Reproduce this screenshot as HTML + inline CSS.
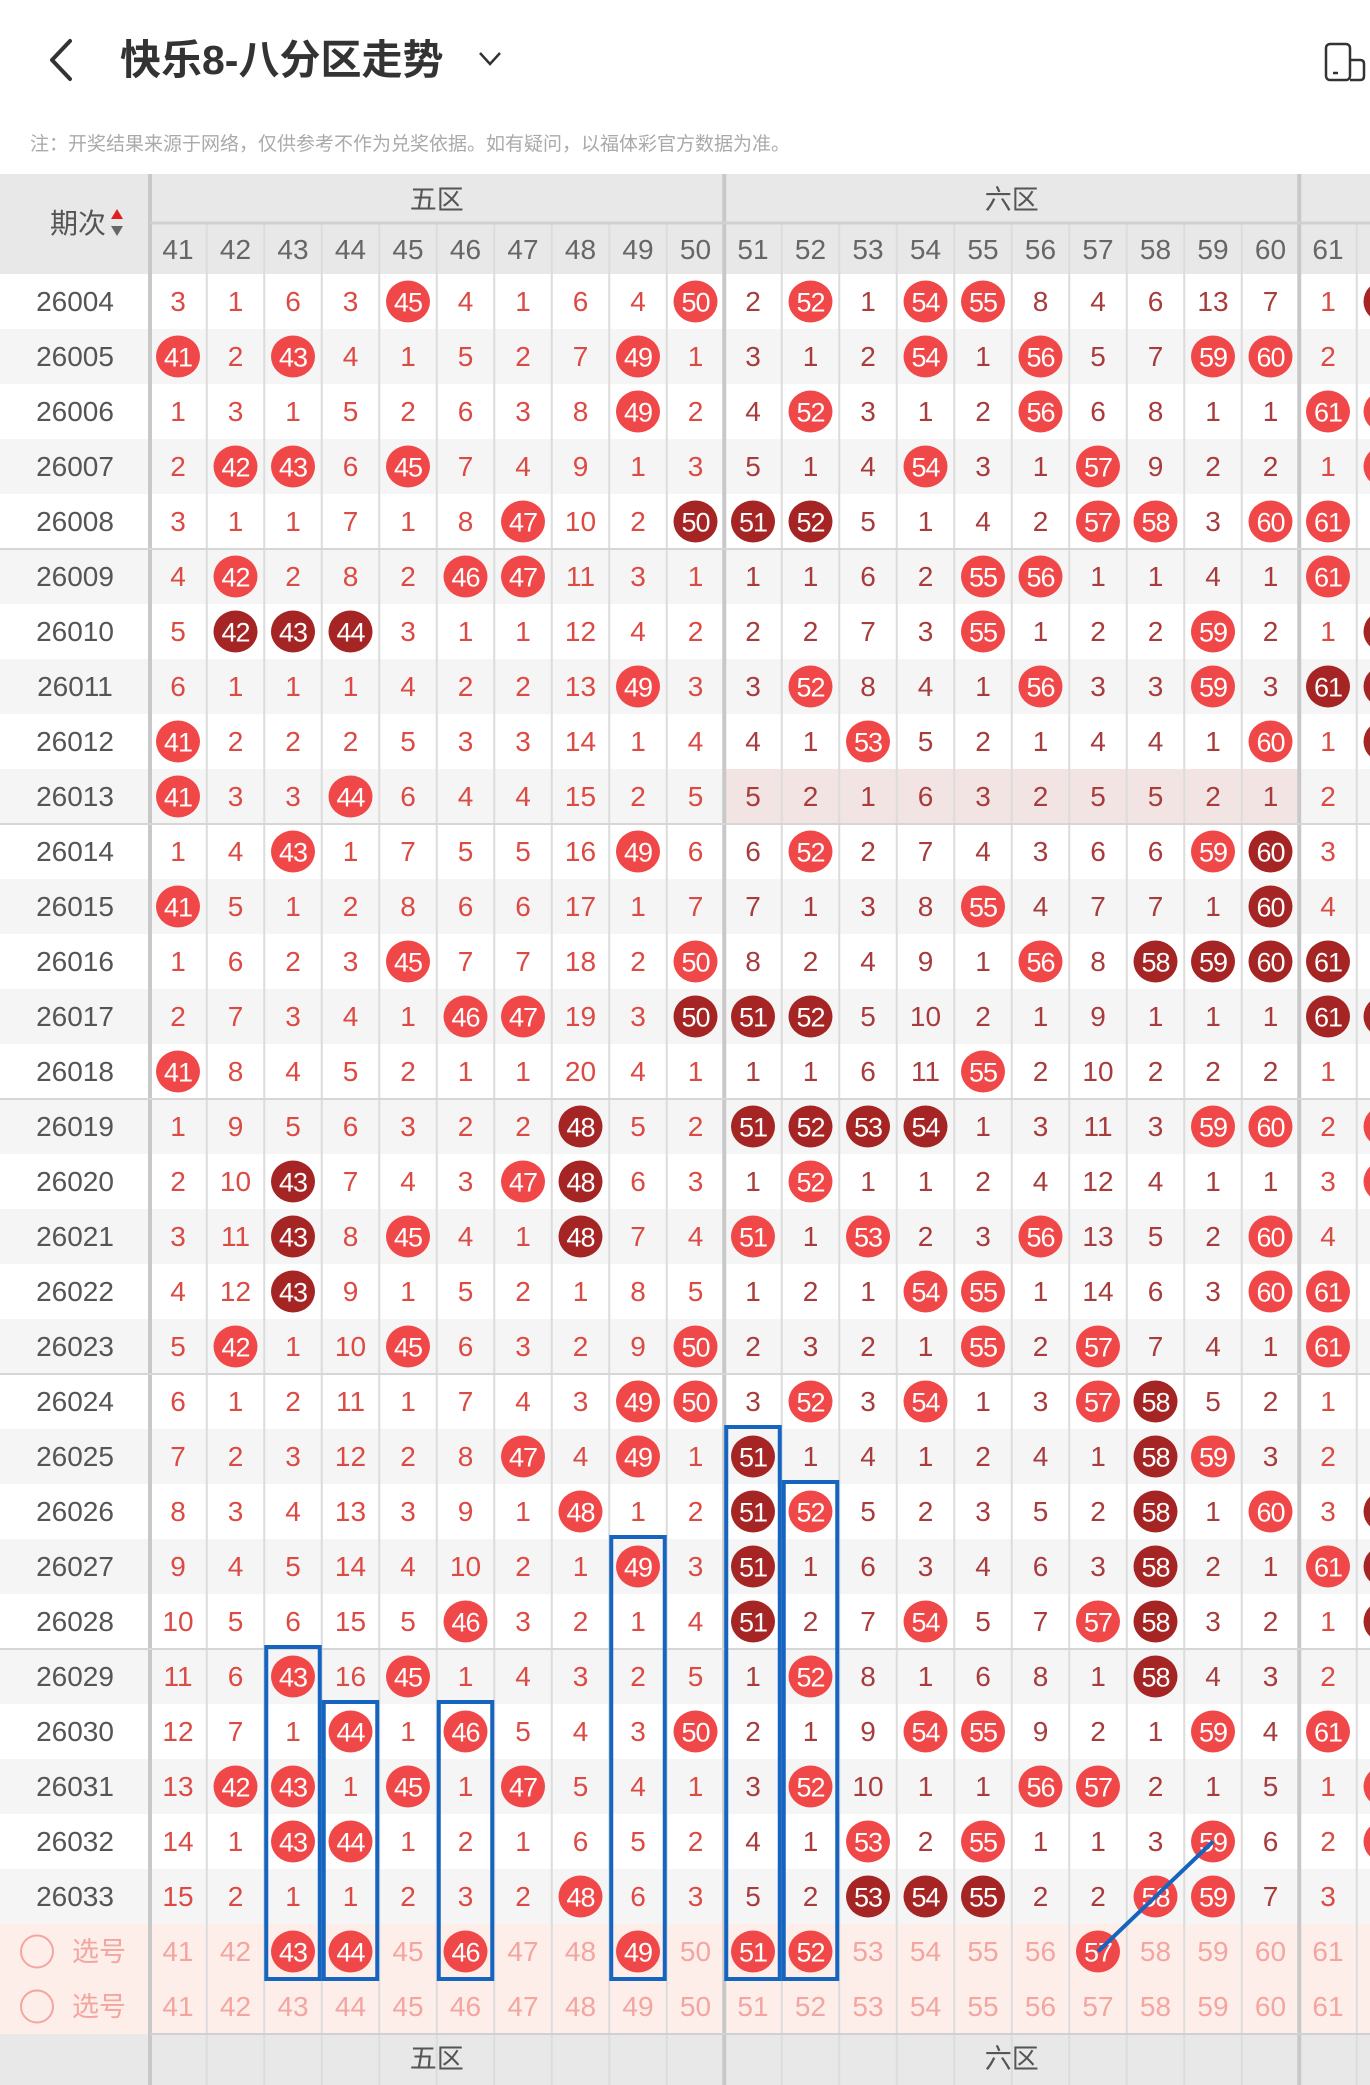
<!DOCTYPE html>
<html><head><meta charset="utf-8"><style>
html,body{margin:0;padding:0;background:#fff;width:1370px;height:2085px;overflow:hidden}
svg{display:block}
text{font-family:"Liberation Sans","Noto Sans CJK SC",sans-serif}
</style></head><body>
<svg id="chart" width="1370" height="2085" viewBox="0 0 1370 2085" xmlns="http://www.w3.org/2000/svg">
<rect x="0" y="0" width="1370" height="2085" fill="#fff"/>
<g>
  <path d="M70 41 L52 60 L70 79" fill="none" stroke="#333" stroke-width="4" stroke-linecap="round" stroke-linejoin="round"/>
  <text x="120" y="74" font-size="41" font-weight="bold" fill="#333">快乐8-八分区走势</text>
  <path d="M480 53 L490 64 L500 53" fill="none" stroke="#333" stroke-width="2.5"/>
  <g fill="none" stroke="#333" stroke-width="2.5">
    <rect x="1326" y="44" width="24" height="36" rx="4"/>
    <path d="M1350 60 H1360 Q1364 60 1364 64 V76 Q1364 80 1360 80 H1350"/>
    <path d="M1333 73 H1338"/>
  </g>
  <text x="30" y="150" font-size="19" fill="#aaa">注：开奖结果来源于网络，仅供参考不作为兑奖依据。如有疑问，以福体彩官方数据为准。</text>
</g>
<g id="grid"></g>
<g id="marks"></g>
<g id="overlay"></g>
</svg>
<script>
const periods = ["26004","26005","26006","26007","26008","26009","26010","26011","26012","26013","26014","26015","26016","26017","26018","26019","26020","26021","26022","26023","26024","26025","26026","26027","26028","26029","26030","26031","26032","26033"];
const columns = [41,42,43,44,45,46,47,48,49,50,51,52,53,54,55,56,57,58,59,60,61,62];
// L = light hit, D = dark (consecutive) hit, number = missing count
const cells = [
"3,1,6,3,L,4,1,6,4,L,2,L,1,L,L,8,4,6,13,7,1,D",
"L,2,L,4,1,5,2,7,L,1,3,1,2,L,1,L,5,7,L,L,2,",
"1,3,1,5,2,6,3,8,L,2,4,L,3,1,2,L,6,8,1,1,L,L",
"2,L,L,6,L,7,4,9,1,3,5,1,4,L,3,1,L,9,2,2,1,L",
"3,1,1,7,1,8,L,10,2,D,D,D,5,1,4,2,L,L,3,L,L,",
"4,L,2,8,2,L,L,11,3,1,1,1,6,2,L,L,1,1,4,1,L,",
"5,D,D,D,3,1,1,12,4,2,2,2,7,3,L,1,2,2,L,2,1,D",
"6,1,1,1,4,2,2,13,L,3,3,L,8,4,1,L,3,3,L,3,D,D",
"L,2,2,2,5,3,3,14,1,4,4,1,L,5,2,1,4,4,1,L,1,D",
"L,3,3,L,6,4,4,15,2,5,5,2,1,6,3,2,5,5,2,1,2,",
"1,4,L,1,7,5,5,16,L,6,6,L,2,7,4,3,6,6,L,D,3,",
"L,5,1,2,8,6,6,17,1,7,7,1,3,8,L,4,7,7,1,D,4,",
"1,6,2,3,L,7,7,18,2,L,8,2,4,9,1,L,8,D,D,D,D,",
"2,7,3,4,1,L,L,19,3,D,D,D,5,10,2,1,9,1,1,1,D,D",
"L,8,4,5,2,1,1,20,4,1,1,1,6,11,L,2,10,2,2,2,1,",
"1,9,5,6,3,2,2,D,5,2,D,D,D,D,1,3,11,3,L,L,2,L",
"2,10,D,7,4,3,L,D,6,3,1,L,1,1,2,4,12,4,1,1,3,L",
"3,11,D,8,L,4,1,D,7,4,L,1,L,2,3,L,13,5,2,L,4,",
"4,12,D,9,1,5,2,1,8,5,1,2,1,L,L,1,14,6,3,L,L,",
"5,L,1,10,L,6,3,2,9,L,2,3,2,1,L,2,L,7,4,1,L,",
"6,1,2,11,1,7,4,3,L,L,3,L,3,L,1,3,L,D,5,2,1,",
"7,2,3,12,2,8,L,4,L,1,D,1,4,1,2,4,1,D,L,3,2,",
"8,3,4,13,3,9,1,L,1,2,D,L,5,2,3,5,2,D,1,L,3,D",
"9,4,5,14,4,10,2,1,L,3,D,1,6,3,4,6,3,D,2,1,L,D",
"10,5,6,15,5,L,3,2,1,4,D,2,7,L,5,7,L,D,3,2,1,D",
"11,6,L,16,L,1,4,3,2,5,1,L,8,1,6,8,1,D,4,3,2,",
"12,7,1,L,1,L,5,4,3,L,2,1,9,L,L,9,2,1,L,4,L,",
"13,L,L,1,L,1,L,5,4,1,3,L,10,1,1,L,L,2,1,5,1,L",
"14,1,L,L,1,2,1,6,5,2,4,1,L,2,L,1,1,3,L,6,2,L",
"15,2,1,1,2,3,2,L,6,3,5,2,D,D,D,2,2,L,L,7,3,"
];
const selected = [43,44,46,49,51,52,57];
const zoneNames = ["五区","六区"];
const boxes = [[43,"26029"],[44,"26030"],[46,"26030"],[49,"26027"],[51,"26025"],[52,"26026"]];
const linkFrom = [57,"select"];
const linkTo = [59,"26032"];

const NS="http://www.w3.org/2000/svg";
const X0=178, CW=57.5, Y0=274, RH=55;
const cx=i=>X0+CW*i, cl=i=>X0-CW/2+CW*i;
const ry=r=>Y0+RH*r;
const colIdx=n=>columns.indexOf(n);
function mk(tag,attrs,parent,txt){const e=document.createElementNS(NS,tag);for(const k in attrs)e.setAttribute(k,attrs[k]);if(txt!==undefined)e.textContent=txt;parent.appendChild(e);return e;}
const grid=document.getElementById('grid'), marks=document.getElementById('marks'), ov=document.getElementById('overlay');
const nRows=periods.length, totalRows=nRows+2;
let e=mk('rect',{x:0,y:174,width:1370,height:100,fill:'#e8e8e8'},grid);


for(let r=0;r<totalRows;r++){
  const fill=r>=nRows?'#fdeeea':(r%2?'#f5f5f5':'#ffffff');
  e=mk('rect',{x:0,y:ry(r),width:1370,height:RH,fill},grid);
  
  
}
e=mk('rect',{x:cl(10),y:ry(9),width:CW*10,height:RH,fill:'#f3e4e4'},grid);


e=mk('rect',{x:0,y:ry(totalRows),width:1370,height:60,fill:'#e8e8e8'},grid);


for(let i=1;i<columns.length;i++){
  const thick=(i===10||i===20);
  mk('line',{x1:cl(i),x2:cl(i),y1:thick?174:223,y2:2085,stroke:thick?'#c8c8c8':'#dcdcdc','stroke-width':thick?4:2},grid);
}
mk('line',{x1:150,x2:150,y1:174,y2:2085,stroke:'#c8c8c8','stroke-width':4},grid);
mk('line',{x1:150,x2:1370,y1:223,y2:223,stroke:'#d0d0d0','stroke-width':3},grid);
for(let g=5;g<nRows;g+=5) mk('line',{x1:0,x2:1370,y1:ry(g),y2:ry(g),stroke:'#d6d6d6','stroke-width':2},grid);
mk('line',{x1:150,x2:1370,y1:ry(totalRows),y2:ry(totalRows),stroke:'#d0d0d0','stroke-width':2},grid);
e=mk('text',{x:78,y:233,'font-size':28,fill:'#555','text-anchor':'middle'},grid,'期次');


mk('path',{d:'M111 219 L117 209 L123 219 Z',fill:'#e02020'},grid);
mk('path',{d:'M111 226 L117 236 L123 226 Z',fill:'#666'},grid);
zoneNames.forEach((z,k)=>{
  const xm=cx(4.5+10*k);
  e=mk('text',{x:xm,y:209,'font-size':27,fill:'#555','text-anchor':'middle'},grid,z);
  
  
  e=mk('text',{x:xm,y:ry(totalRows)+34,'font-size':27,fill:'#555','text-anchor':'middle'},grid,z);
  
  
});
columns.forEach((n,i)=>{
  e=mk('text',{x:cx(i),y:259,'font-size':28,fill:'#666','text-anchor':'middle'},grid,String(n));
  
  
});
function ball(i,r,dark,n){
  const g=mk('g',{},marks);
  
  
  mk('ellipse',{cx:cx(i),cy:ry(r)+RH/2,rx:22,ry:21,fill:dark?'#a52424':'#f04848'},g);
  mk('text',{x:cx(i),y:ry(r)+RH/2+10,'font-size':27,fill:'#fff','text-anchor':'middle','letter-spacing':'-1'},g,String(n));
}
periods.forEach((p,r)=>{
  e=mk('text',{x:75,y:ry(r)+37,'font-size':28,fill:'#555','text-anchor':'middle'},marks,p);
  
  
  cells[r].split(',').forEach((v,i)=>{
    if(v==='')return;
    if(v==='L'||v==='D'){ball(i,r,v==='D',columns[i]);return;}
    const col=(i>=10&&i<20)?'#a83c3c':'#dc4a44';
    e=mk('text',{x:cx(i),y:ry(r)+37,'font-size':28,fill:col,'text-anchor':'middle'},marks,v);
    
    
  });
});
for(let s=0;s<2;s++){
  const r=nRows+s;
  e=mk('circle',{cx:37,cy:ry(r)+RH/2,r:16,fill:'none',stroke:'#f4a5a0','stroke-width':2},marks);
  
  
  mk('text',{x:72,y:ry(r)+37,'font-size':27,fill:'#f4a5a0'},marks,'选号');
  columns.forEach((n,i)=>{
    if(i>20)return;
    if(s===0&&selected.includes(n)){ball(i,r,false,n);return;}
    e=mk('text',{x:cx(i),y:ry(r)+37,'font-size':28,fill:'#f4a5a0','text-anchor':'middle'},marks,String(n));
    
    
  });
}
const rowOf=k=>k==='select'?nRows:periods.indexOf(k);
boxes.forEach(([n,p])=>{
  const i=colIdx(n), r0=rowOf(p);
  e=mk('rect',{x:cl(i)+2,y:ry(r0)-2,width:CW-4,height:ry(nRows+1)-ry(r0)+2,fill:'none',stroke:'#1565c0','stroke-width':4},ov);
  
  
});
e=mk('line',{x1:cx(colIdx(linkFrom[0])),y1:ry(rowOf(linkFrom[1]))+RH/2,x2:cx(colIdx(linkTo[0])),y2:ry(rowOf(linkTo[1]))+RH/2,stroke:'#1565c0','stroke-width':4},ov);


</script>
</body></html>
